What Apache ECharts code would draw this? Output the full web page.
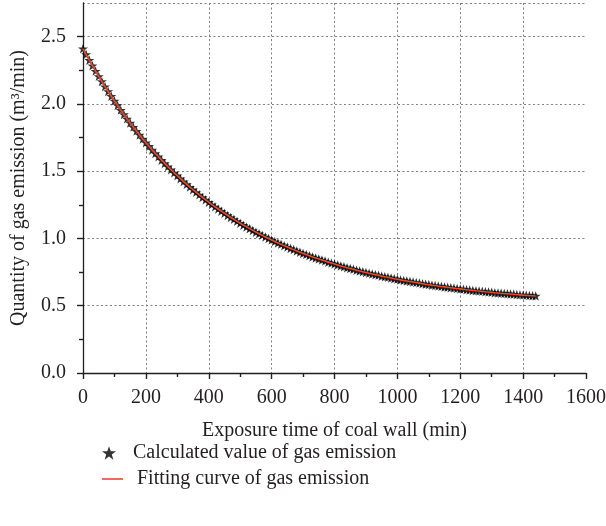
<!DOCTYPE html>
<html>
<head>
<meta charset="utf-8">
<script src="https://cdn.jsdelivr.net/npm/echarts@6/dist/echarts.min.js"></script>
<style>
  html, body { margin: 0; padding: 0; background: #ffffff; }
  #chart { width: 606px; height: 526px; }
</style>
</head>
<body>
<div id="chart"></div>
<script>
// Exposure time of the coal wall (min)
const exposureTimes = [
  0, 10, 20, 30, 40, 50, 60, 70, 80, 90,
  100, 110, 120, 130, 140, 150, 160, 170, 180, 190,
  200, 210, 220, 230, 240, 250, 260, 270, 280, 290,
  300, 310, 320, 330, 340, 350, 360, 370, 380, 390,
  400, 410, 420, 430, 440, 450, 460, 470, 480, 490,
  500, 510, 520, 530, 540, 550, 560, 570, 580, 590,
  600, 610, 620, 630, 640, 650, 660, 670, 680, 690,
  700, 710, 720, 730, 740, 750, 760, 770, 780, 790,
  800, 810, 820, 830, 840, 850, 860, 870, 880, 890,
  900, 910, 920, 930, 940, 950, 960, 970, 980, 990,
  1000, 1010, 1020, 1030, 1040, 1050, 1060, 1070, 1080, 1090,
  1100, 1110, 1120, 1130, 1140, 1150, 1160, 1170, 1180, 1190,
  1200, 1210, 1220, 1230, 1240, 1250, 1260, 1270, 1280, 1290,
  1300, 1310, 1320, 1330, 1340, 1350, 1360, 1370, 1380, 1390,
  1400, 1410, 1420, 1430, 1440
];

// Gas emission quantity (m3/min) at each exposure time
const gasEmission = [
  2.410, 2.367, 2.325, 2.284, 2.244, 2.205, 2.167, 2.129, 2.092, 2.057,
  2.022, 1.988, 1.954, 1.921, 1.889, 1.858, 1.828, 1.798, 1.769, 1.740,
  1.712, 1.685, 1.658, 1.632, 1.607, 1.582, 1.558, 1.534, 1.511, 1.488,
  1.466, 1.444, 1.423, 1.402, 1.382, 1.362, 1.343, 1.324, 1.305, 1.287,
  1.270, 1.252, 1.235, 1.219, 1.203, 1.187, 1.171, 1.156, 1.142, 1.127,
  1.113, 1.099, 1.086, 1.073, 1.060, 1.047, 1.035, 1.023, 1.011, 1.000,
  0.988, 0.977, 0.967, 0.956, 0.946, 0.936, 0.926, 0.917, 0.907, 0.898,
  0.889, 0.880, 0.872, 0.863, 0.855, 0.847, 0.840, 0.832, 0.824, 0.817,
  0.810, 0.803, 0.796, 0.790, 0.783, 0.777, 0.771, 0.764, 0.758, 0.753,
  0.747, 0.741, 0.736, 0.731, 0.726, 0.720, 0.716, 0.711, 0.706, 0.701,
  0.697, 0.692, 0.688, 0.684, 0.680, 0.676, 0.672, 0.668, 0.664, 0.660,
  0.657, 0.653, 0.650, 0.646, 0.643, 0.640, 0.637, 0.634, 0.631, 0.628,
  0.625, 0.622, 0.619, 0.617, 0.614, 0.611, 0.609, 0.607, 0.604, 0.602,
  0.600, 0.597, 0.595, 0.593, 0.591, 0.589, 0.587, 0.585, 0.583, 0.581,
  0.579, 0.578, 0.576, 0.574, 0.572
];

// Axis tick values
const xMajorTicks = [0, 200, 400, 600, 800, 1000, 1200, 1400, 1600];
const xMinorTicks = [100, 300, 500, 700, 900, 1100, 1300, 1500];
const yMajorTicks = [0, 0.5, 1.0, 1.5, 2.0, 2.5];
const yMinorTicks = [0.25, 0.75, 1.25, 1.75, 2.25];

const seriesNames = ['Calculated value of gas emission', 'Fitting curve of gas emission'];

const FONT = 'Liberation Serif';
const FS = 20;
const INK = '#231f20';
const RED = '#e8492c';
const STAR = 'path://M12,0.6L15,9.2L24,9.2L16.8,14.6L19.5,23.4L12,18L4.5,23.4L7.2,14.6L0,9.2L9,9.2Z';

const points = exposureTimes.map((t, i) => [t, gasEmission[i]]);

const chart = echarts.init(document.getElementById('chart'), null, { renderer: 'canvas' });

const gridLine = { show: true, lineStyle: { color: '#808080', width: 1, type: [2, 2.5] } };
const tickStyle = { color: INK, width: 1.4 };

// A bare axis that only carries a set of tick marks
function tickAxis(base, values, len) {
  return Object.assign({
    type: 'value',
    axisLine: { show: false },
    axisLabel: { show: false },
    splitLine: { show: false },
    axisTick: { show: true, inside: false, length: len, customValues: values, lineStyle: tickStyle }
  }, base);
}

chart.setOption({
  backgroundColor: '#ffffff',
  animation: false,
  grid: { left: 83, right: 20, top: 3, bottom: 153, containLabel: false, outerBoundsMode: 'none' },
  xAxis: [
    {
      type: 'value',
      min: 0,
      max: 1600,
      interval: 200,
      name: 'Exposure time of coal wall (min)',
      nameLocation: 'middle',
      nameGap: 48,
      nameTextStyle: { fontFamily: FONT, fontSize: FS, color: INK },
      axisLine: { show: true, lineStyle: { color: INK, width: 1.3 } },
      axisTick: { show: false },
      axisLabel: { fontFamily: FONT, fontSize: FS, color: INK, margin: 15, formatter: v => String(v) },
      splitLine: Object.assign({ showMinLine: false, showMaxLine: false }, gridLine)
    },
    tickAxis({ min: 0, max: 1600, position: 'bottom', offset: 0 }, xMajorTicks, 6),
    tickAxis({ min: 0, max: 1600, position: 'bottom', offset: 0 }, xMinorTicks, 4)
  ],
  yAxis: [
    {
      type: 'value',
      min: 0,
      max: 2.75,
      interval: 0.5,
      name: 'Quantity of gas emission (m³/min)',
      nameLocation: 'middle',
      nameGap: 54,
      nameTextStyle: { fontFamily: FONT, fontSize: FS, color: INK },
      axisLine: { show: true, onZero: false, lineStyle: { color: INK, width: 1.3 } },
      axisTick: { show: false },
      axisLabel: {
        fontFamily: FONT, fontSize: FS, color: INK, margin: 17,
        customValues: yMajorTicks,
        formatter: v => v.toFixed(1)
      },
      splitLine: Object.assign({ showMinLine: false, showMaxLine: true }, gridLine)
    },
    tickAxis({ min: 0, max: 2.75, position: 'left', offset: 0 }, yMajorTicks, 6),
    tickAxis({ min: 0, max: 2.75, position: 'left', offset: 0 }, yMinorTicks, 4)
  ],
  legend: [
    {
      data: [{ name: seriesNames[0], icon: STAR }],
      left: 97, top: 438, orient: 'vertical',
      itemWidth: 14, itemHeight: 14,
      textStyle: { fontFamily: FONT, fontSize: FS, color: INK, padding: [0, 0, 0, 12] }
    },
    {
      data: [{ name: seriesNames[1], icon: 'rect' }],
      left: 97, top: 464, orient: 'vertical',
      itemWidth: 21, itemHeight: 1.6,
      itemStyle: { color: RED },
      textStyle: { fontFamily: FONT, fontSize: FS, color: INK, padding: [0, 0, 0, 9] }
    }
  ],
  series: [
    {
      name: seriesNames[0],
      type: 'scatter',
      data: points,
      symbol: STAR,
      symbolSize: 10,
      symbolKeepAspect: true,
      itemStyle: { color: '#000000' },
      z: 2
    },
    {
      name: seriesNames[1],
      type: 'line',
      data: points,
      symbol: 'none',
      smooth: false,
      lineStyle: { color: RED, width: 1.6 },
      itemStyle: { color: RED },
      z: 3
    }
  ]
});
</script>
</body>
</html>
